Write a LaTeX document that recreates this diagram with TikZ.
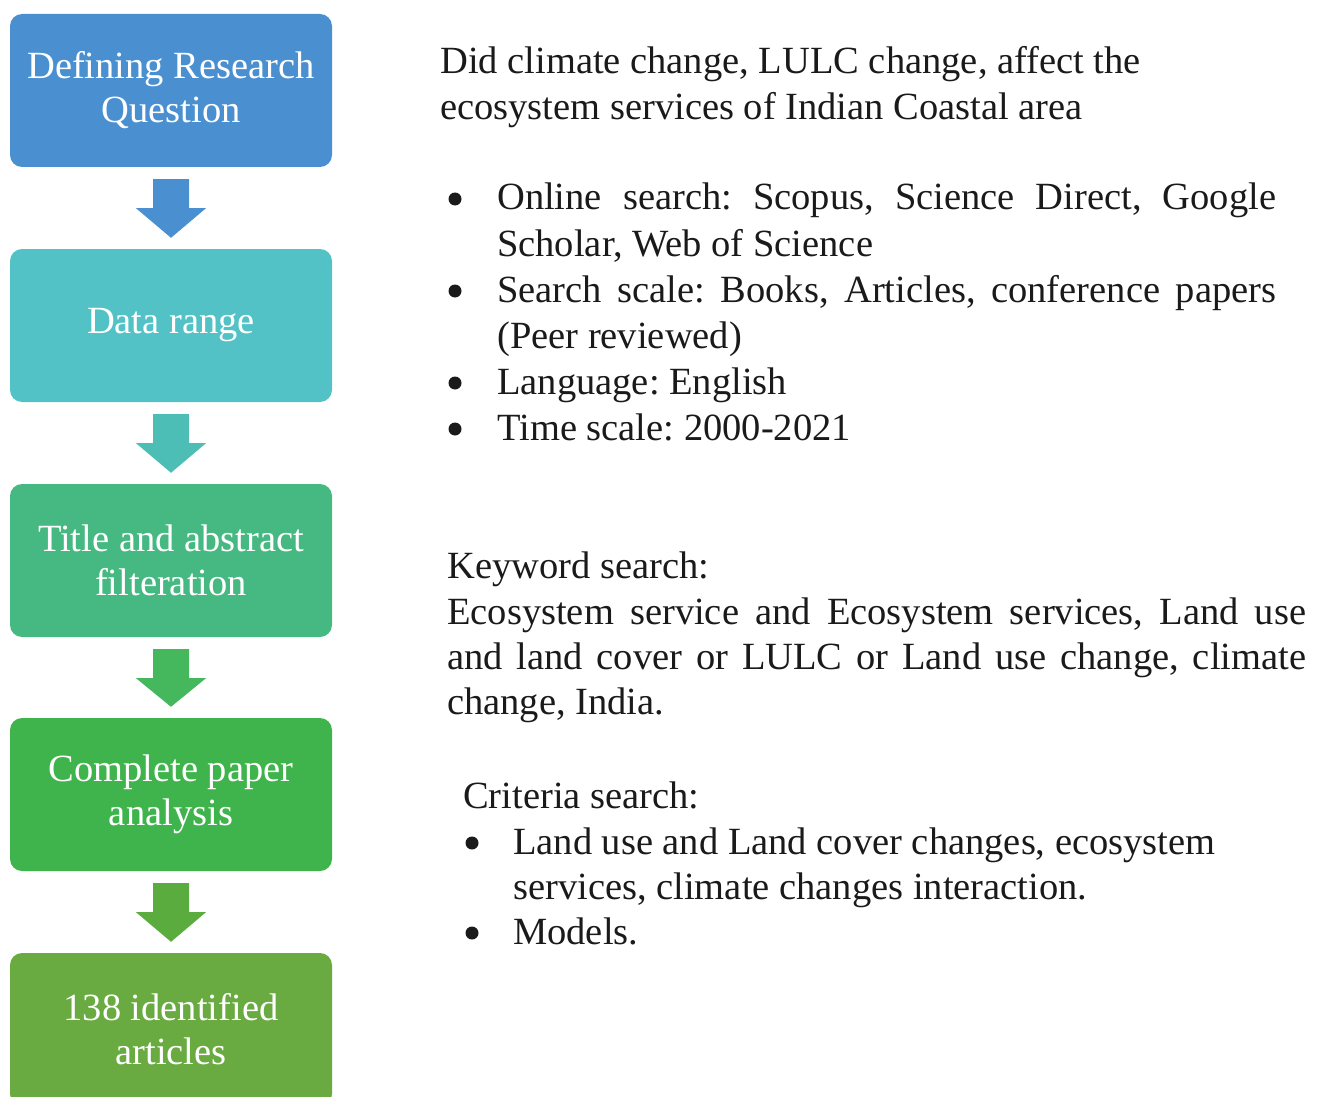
\documentclass[tikz,border=0pt]{standalone}
\usepackage{fontspec}
\setmainfont{Liberation Serif}
\usetikzlibrary{calc}
\frenchspacing

\definecolor{stepA}{HTML}{4A90D0}
\definecolor{stepB}{HTML}{52C2C6}
\definecolor{stepC}{HTML}{46B982}
\definecolor{stepD}{HTML}{40B44C}
\definecolor{stepE}{HTML}{69AA41}
\definecolor{arrA}{HTML}{4A8FD0}
\definecolor{arrB}{HTML}{4DBEB6}
\definecolor{arrC}{HTML}{45B75C}
\definecolor{arrD}{HTML}{5BAC3F}
\definecolor{ink}{HTML}{1A1A1A}

\tikzset{
  stepbox/.style={rectangle, rounded corners=12pt, minimum width=322pt,
    minimum height=153pt, inner sep=0pt, align=center, text=white,
    font=\fontsize{38.5}{44}\selectfont},
  txt/.style={anchor=base west, inner sep=0pt, text=ink,
    font=\fontsize{38.5}{46}\selectfont},
  dot/.style={circle, fill=ink, inner sep=0pt, minimum size=13pt},
}

% block arrow from the bottom of one box to the top of the next
% (y grows downwards in this picture)
\newcommand{\blockarrow}[3]{%
  \fill[#3] ($(#1.south)+(-18,12)$) -- ($(#1.south)+(18,12)$)
    -- ($(#1.south)+(18,41)$) -- ($(#1.south)+(35,41)$)
    -- ($(#2.north)+(0,-11)$)
    -- ($(#1.south)+(-35,41)$) -- ($(#1.south)+(-18,41)$) -- cycle;}

\begin{document}
\begin{tikzpicture}[x=1pt,y=-1pt]
\useasboundingbox (0,0) rectangle (1318,1097);
\clip (0,0) rectangle (1318,1097);

% flow of steps
\node[stepbox, fill=stepA] (b1) at (171,90.5)  {Defining Research\\Question};
\node[stepbox, fill=stepB] (b2) at (171,325.5) {Data range};
\node[stepbox, fill=stepC] (b3) at (171,560.5) {Title and abstract\\filteration};
\node[stepbox, fill=stepD] (b4) at (171,794.5) {Complete paper\\analysis};
\node[stepbox, fill=stepE] (b5) at (171,1029.5) {138 identified\\articles};

\blockarrow{b1}{b2}{arrA}
\blockarrow{b2}{b3}{arrB}
\blockarrow{b3}{b4}{arrC}
\blockarrow{b4}{b5}{arrD}

% research question
\node[txt] (q1) at (440,74)  {Did climate change, LULC change, affect the};
\node[txt] (q2) at (440,120) {ecosystem services of Indian Coastal area};

% search settings
\node[dot] (d1) at (455,199) {};
\node[txt] (s1) at (497,210) {\makebox[779pt][s]{Online search: Scopus, Science Direct, Google}};
\node[txt] (s2) at (497,256) {Scholar, Web of Science};
\node[dot] (d2) at (455,291) {};
\node[txt] (s3) at (497,302) {\makebox[779pt][s]{Search scale: Books, Articles, conference papers}};
\node[txt] (s4) at (497,348) {(Peer reviewed)};
\node[dot] (d3) at (455,383) {};
\node[txt] (s5) at (497,394) {Language: English};
\node[dot] (d4) at (455,429) {};
\node[txt] (s6) at (497,440) {Time scale: 2000-2021};

% keywords
\node[txt] (k0) at (447,578) {Keyword search:};
\node[txt] (k1) at (447,624) {\makebox[859pt][s]{Ecosystem service and Ecosystem services, Land use}};
\node[txt] (k2) at (447,669) {\makebox[859pt][s]{and land cover or LULC or Land use change, climate}};
\node[txt] (k3) at (447,714) {change, India.};

% criteria
\node[txt] (c0) at (463,808) {Criteria search:};
\node[dot] (e1) at (472,843) {};
\node[txt] (c1) at (513,854) {Land use and Land cover changes, ecosystem};
\node[txt] (c2) at (513,899) {services, climate changes interaction.};
\node[dot] (e2) at (472,933) {};
\node[txt] (c3) at (513,944) {Models.};
\end{tikzpicture}
\end{document}
